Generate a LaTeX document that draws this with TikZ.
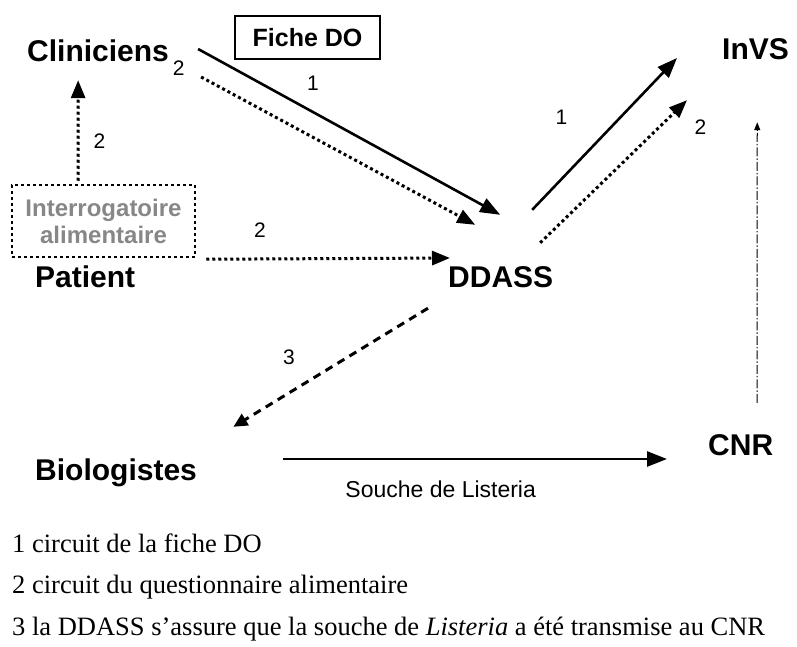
\documentclass[tikz,border=0pt]{standalone}
\usepackage{fontspec}
\setmainfont{Liberation Sans}
\newfontfamily\legfont{Liberation Serif}
\usetikzlibrary{positioning,arrows.meta}
\definecolor{boxgray}{RGB}{135,135,135}

\begin{document}
\begin{tikzpicture}[x=1pt, y=-1pt,
	ent/.style={font=\bfseries\fontsize{30}{30}\selectfont, inner sep=0pt, text height=22pt, text depth=0pt, anchor=base west},
	lbl/.style={font=\fontsize{21}{21}\selectfont, inner sep=0pt},
	leg/.style={font=\legfont\fontsize{26.5}{26.5}\selectfont, inner sep=0pt, anchor=base west},
	c1/.style={-{Triangle[length=20pt,width=15pt]}, line width=2.6pt},
	c2/.style={-{Triangle[length=18pt,width=14pt]}, line width=3pt, dash pattern=on 3pt off 3pt},
	c3/.style={-{Triangle[length=14pt,width=13pt]}, line width=3pt, dash pattern=on 8pt off 6pt},
	cnrlink/.style={-{Triangle[length=8pt,width=6pt]}, line width=1pt, dash pattern=on 9pt off 2pt on 1.5pt off 2pt}]
		\useasboundingbox (0,0) rectangle (797,647);

		\node [ent] (clin) at (27,62) {Cliniciens};
		\node [ent] (pat) at (35,287) {Patient};
		\node [ent] (ddass) at (448,287) {DDASS};
		\node [ent] (invs) at (722,60) {InVS};
		\node [ent] (cnr) at (708,455) {CNR};
		\node [ent] (bio) at (35,480) {Biologistes};

		\node [draw, line width=2.5pt, minimum width=145pt, minimum height=43pt, font=\bfseries\fontsize{25}{25}\selectfont] (fiche) at (307.5,37.5) {Fiche DO};
		\node [draw, line width=2.5pt, dash pattern=on 3pt off 3pt, minimum width=183pt, minimum height=72pt, align=center, text=boxgray, font=\bfseries\fontsize{24}{27}\selectfont] (intg) at (103.5,221) {Interrogatoire\\alimentaire};

		\path[c1] ([shift={(29,-2)}]clin.east) edge node [lbl, pos=0.38, above=20pt] {1} ([shift={(-0.5,-50)}]ddass.north);
		\path[c2] ([shift={(32,26)}]clin.east) edge node [lbl, pos=0, left=15pt, yshift=9pt] {2} ([shift={(-25.5,-40)}]ddass.north);
		\path[c2] ([shift={(-25.5,-3)}]intg.north) edge node [lbl, pos=0.39, right=14pt] {2} ([shift={(-19.9,18)}]clin.south);
		\path[c2] ([shift={(10,1)}]intg.south east) edge node [lbl, pos=0.22, above=20pt] {2} ([shift={(2,-18)}]ddass.west);
		\path[c1] ([shift={(31.5,-55)}]ddass.north) edge node [lbl, pos=0.61, left=52pt] {1} ([shift={(-45,9)}]invs.west);
		\path[c2] ([shift={(39.5,-22)}]ddass.north) edge node [lbl, pos=1, below right=18.5pt and 6pt] {2} ([shift={(-35,40)}]invs.south west);
		\path[cnrlink] ([shift={(16.5,-30)}]cnr.north) edge ([shift={(1.7,62)}]invs.south);
		\path[c3] ([shift={(-20,21)}]ddass.south west) edge node [lbl, pos=0.41, left=52pt] {3} ([shift={(36.3,-31)}]bio.north east);
		\path[c1] ([shift={(86.3,-10)}]bio.east) edge node [pos=0.41, below=20.6pt, inner sep=0pt, font=\fontsize{23}{23}\selectfont] {Souche de Listeria} ([shift={(-41,15)}]cnr.west);

		\node [leg] (leg1) at (12,552) {1 circuit de la fiche DO};
		\node [leg] (leg2) at (12,593.5) {2 circuit du questionnaire alimentaire};
		\node [leg] (leg3) at (12,635) {3 la DDASS s’assure que la souche de \textit{Listeria} a été transmise au CNR};
	\end{tikzpicture}
\end{document}
